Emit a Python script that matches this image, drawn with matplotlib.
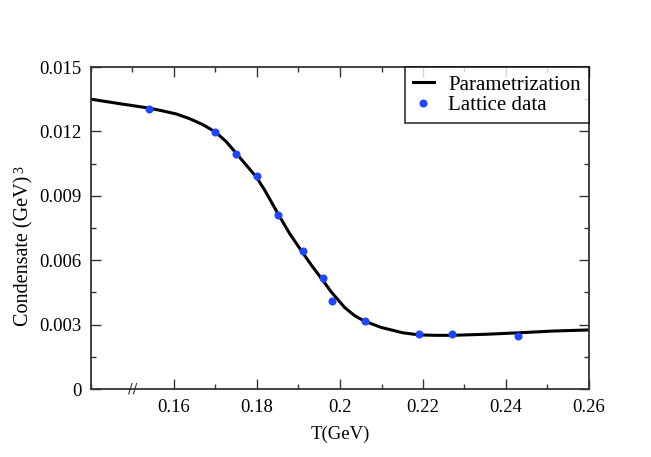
import matplotlib
matplotlib.use("Agg")
import matplotlib.pyplot as plt
from matplotlib.ticker import MultipleLocator, FixedLocator, FixedFormatter
import matplotlib.transforms as mtransforms

# Parametrization curve
curve_T = [0.1400, 0.1473, 0.1542, 0.1574, 0.1606, 0.1638, 0.1670, 0.1700, 0.1726,
           0.1750, 0.1774, 0.1798, 0.1819, 0.1835, 0.1851, 0.1879, 0.1909, 0.1931,
           0.1959, 0.1979, 0.2011, 0.2035, 0.2059, 0.2099, 0.2151, 0.2190, 0.2232,
           0.2271, 0.2352, 0.2433, 0.2513, 0.2600]
curve_C = [0.01350, 0.01328, 0.01308, 0.01295, 0.01281, 0.01259, 0.01231, 0.01197, 0.01152,
           0.01098, 0.01043, 0.00989, 0.00925, 0.00870, 0.00815, 0.00723, 0.00638, 0.00577,
           0.00505, 0.00452, 0.00380, 0.00342, 0.00316, 0.00287, 0.00262, 0.00252, 0.00250,
           0.00250, 0.00255, 0.00262, 0.00270, 0.00275]

# Lattice data
lat_T = [0.154, 0.170, 0.175, 0.180, 0.185, 0.191, 0.196, 0.198, 0.206, 0.219, 0.227, 0.243]
lat_C = [0.01306, 0.01199, 0.01096, 0.00991, 0.00811, 0.00643, 0.00516, 0.00409,
         0.00315, 0.00255, 0.00258, 0.00248]

xticks = [0.16, 0.18, 0.20, 0.22, 0.24, 0.26]
xticklabels = ['0.16', '0.18', '0.2', '0.22', '0.24', '0.26']
yticks = [0, 0.003, 0.006, 0.009, 0.012, 0.015]
yticklabels = ['0', '0.003', '0.006', '0.009', '0.012', '0.015']

plt.rcParams['font.family'] = ['Liberation Serif', 'DejaVu Serif']

FS = 13.5

fig = plt.figure(figsize=(6.51, 4.57), dpi=100)
ax = fig.add_axes([91/651, 1-389/457, (589-91)/651, (389-67)/457])

ax.plot(curve_T, curve_C, color='black', lw=2.2, label='Parametrization', zorder=2,
        solid_joinstyle='round')
ax.plot(lat_T, lat_C, 'o', color='#2146ff', markersize=5.8, markeredgewidth=0,
        label='Lattice data', zorder=3)

ax.set_xlim(0.14, 0.26)
ax.set_ylim(0, 0.015)

ax.xaxis.set_major_locator(FixedLocator(xticks))
ax.xaxis.set_major_formatter(FixedFormatter(xticklabels))
ax.xaxis.set_minor_locator(MultipleLocator(0.01))
ax.yaxis.set_major_locator(FixedLocator(yticks))
ax.yaxis.set_major_formatter(FixedFormatter(yticklabels))
ax.yaxis.set_minor_locator(MultipleLocator(0.0015))

ax.tick_params(which='both', direction='in', top=True, right=True, width=1.0,
               colors='#333333', labelcolor='black', labelsize=FS)
ax.tick_params(which='major', length=7, pad=7)
ax.tick_params(which='minor', length=3.5)
for s in ax.spines.values():
    s.set_linewidth(1.3)
    s.set_color('#333333')

# hide bottom minor tick at the axis break
fig.canvas.draw()
for t in ax.xaxis.get_minor_ticks():
    if abs(t.get_loc() - 0.15) < 1e-6:
        t.tick1line.set_visible(False)

trans = mtransforms.blended_transform_factory(ax.transData, ax.transAxes)
ax.text(0.15, 0.0, '//', transform=trans, ha='center', va='center',
        fontsize=10, color='#333333', fontfamily='DejaVu Sans')

ax.set_xlabel('T(GeV)', fontsize=FS, labelpad=7)
ylab = ax.set_ylabel('Condensate (GeV)', fontsize=14.5, labelpad=4)
ylab.set_y(0.43)
ax.annotate('3', xy=(0, 1), xycoords=ylab, xytext=(-1.0, 2.0),
            textcoords='offset points', rotation=90, ha='left', va='bottom',
            fontsize=10)

leg = ax.legend(loc='upper right', borderaxespad=0, fontsize=15, frameon=True,
                fancybox=False, handlelength=1.0, handletextpad=0.7,
                labelspacing=0.05, borderpad=0.38, numpoints=1)
leg.get_frame().set_edgecolor('black')
leg.get_frame().set_linewidth(1.2)

fig.savefig('out.png', dpi=100)
